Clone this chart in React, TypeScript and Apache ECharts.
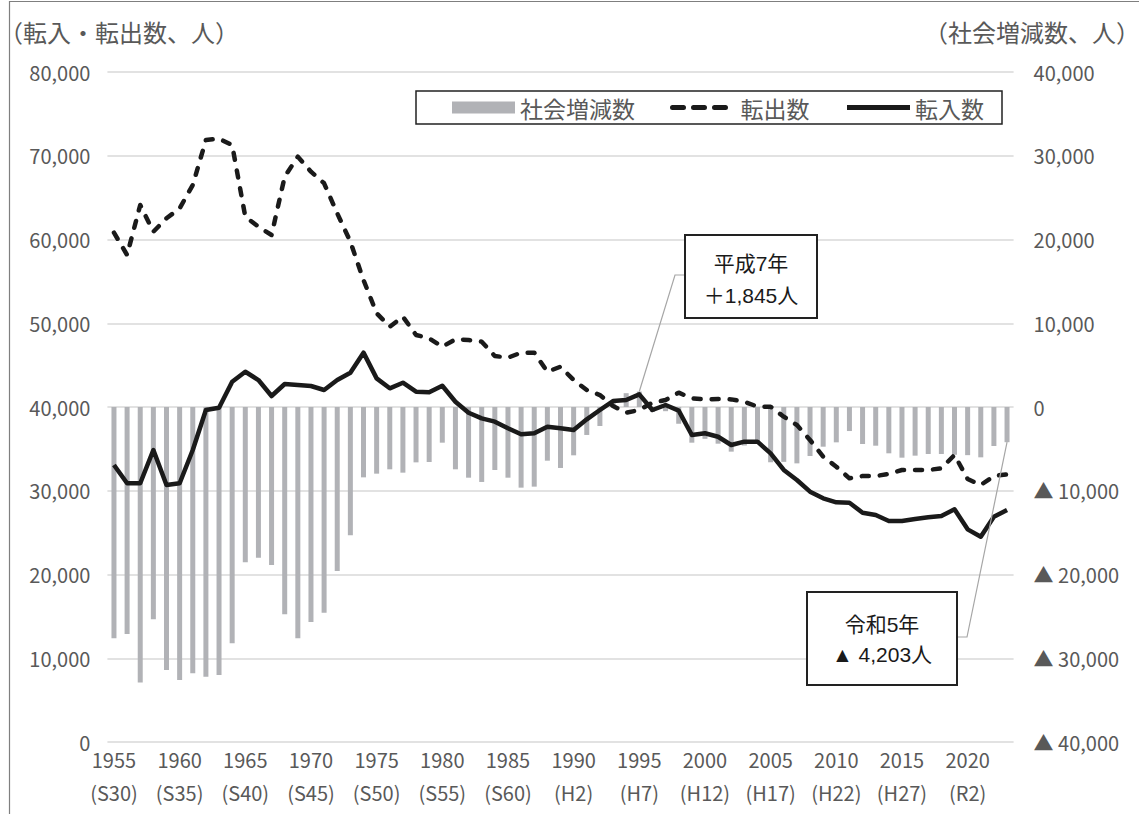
import React, { useEffect, useRef } from "react";
import * as echarts from "echarts";

const years = [
  "1955","1956","1957","1958","1959","1960","1961","1962","1963","1964",
  "1965","1966","1967","1968","1969","1970","1971","1972","1973","1974",
  "1975","1976","1977","1978","1979","1980","1981","1982","1983","1984",
  "1985","1986","1987","1988","1989","1990","1991","1992","1993","1994",
  "1995","1996","1997","1998","1999","2000","2001","2002","2003","2004",
  "2005","2006","2007","2008","2009","2010","2011","2012","2013","2014",
  "2015","2016","2017","2018","2019","2020","2021","2022","2023",
];

const eraLabels = ["S30","S35","S40","S45","S50","S55","S60","H2","H7","H12","H17","H22","H27","R2"];

// 社会増減数 (right axis)
const socialChange = [
  -27620,-27100,-32900,-25350,-31400,-32600,-31800,-32200,-32000,-28220,
  -18550,-17990,-18870,-24760,-27620,-25670,-24560,-19580,-15320,-8400,
  -7960,-7440,-7840,-6610,-6570,-4260,-7440,-8440,-8950,-7520,
  -8440,-9630,-9510,-6410,-7280,-5770,-3340,-2270,500,1650,
  1845,-600,-500,-2000,-4260,-3800,-4380,-5330,-4600,-4300,
  -6600,-6550,-6730,-5850,-4740,-4220,-2870,-4420,-4620,-5530,
  -6050,-5810,-5610,-5610,-5700,-5750,-6010,-4660,-4203,
];

// 転出数 (left axis)
const outflow = [
  60810,58150,64120,60930,62530,63720,66510,71880,72040,71280,
  62720,61530,60540,67500,69890,68100,66710,63130,59740,55160,
  51190,49590,50780,48600,48200,47200,48080,48000,47800,46090,
  45890,46490,46490,44210,44810,43220,42030,41430,40120,39320,
  39640,40520,40830,41710,41030,40910,40950,40910,40630,40040,
  40040,38840,37850,36060,34070,32870,31480,31760,31760,32000,
  32480,32480,32480,32680,34270,31400,30690,31760,31960,
];

// 転入数 (left axis)
const inflow = [
  33070,30890,30890,34860,30690,30890,34860,39640,39900,43020,
  44210,43220,41310,42750,42630,42510,42030,43220,44090,46490,
  43420,42230,42900,41830,41750,42540,40630,39320,38650,38250,
  37460,36740,36860,37650,37460,37250,38530,39640,40710,40830,
  41510,39640,40240,39560,36660,36860,36450,35460,35860,35860,
  34470,32480,31280,29890,29100,28620,28570,27380,27100,26390,
  26390,26630,26830,26980,27780,25390,24510,26900,27700,
];

const NARROW = "'Liberation Sans Narrow', 'Noto Sans CJK JP', sans-serif";
const CJK = "'Noto Sans CJK JP', 'Liberation Sans', sans-serif";
const SANS = "'Liberation Sans', 'Noto Sans CJK JP', sans-serif";
const TEXT = "#595959";

const fmt = (v: number) => v.toLocaleString("en-US");

export default function App() {
  const ref = useRef<HTMLDivElement>(null);

  useEffect(() => {
    document.body.style.margin = "0";
    if (!ref.current) return;
    const chart = echarts.init(ref.current, undefined, { renderer: "svg" });

    const option: any = {
      animation: false,
      backgroundColor: "#ffffff",
      grid: { left: 107.4, right: 125.4, top: 72, bottom: 72, containLabel: false },
      legend: {
        left: 416,
        top: 91,
        orient: "horizontal",
        borderColor: "#222",
        borderWidth: 1.5,
        padding: [5, 18, 5, 36],
        itemGap: 35,
        itemWidth: 63,
        itemHeight: 12,
        textStyle: { fontSize: 23, color: TEXT, fontFamily: CJK },
        data: [
          { name: "社会増減数", icon: "rect" },
          {
            name: "転出数",
            itemStyle: { opacity: 0 },
            lineStyle: { type: [11, 10], width: 5, cap: "round", color: "#1a1a1a" },
          },
          {
            name: "転入数",
            itemStyle: { opacity: 0 },
            lineStyle: { width: 5, color: "#1a1a1a" },
          },
        ],
      },
      xAxis: {
        type: "category",
        data: years,
        boundaryGap: true,
        axisLine: { show: false },
        axisTick: { show: false },
        axisLabel: {
          interval: (i: number) => i % 5 === 0,
          formatter: (v: string, i: number) =>
            i % 5 === 0 ? `${v}\n(${eraLabels[i / 5]})` : "",
          fontSize: 20,
          lineHeight: 33,
          margin: 1,
          color: TEXT,
          fontFamily: NARROW,
        },
      },
      yAxis: [
        {
          type: "value",
          min: 0,
          max: 80000,
          interval: 10000,
          axisLine: { show: false },
          axisTick: { show: false },
          splitLine: { lineStyle: { color: "#d9d9d9", width: 1.5 } },
          axisLabel: {
            formatter: (v: number) => fmt(v),
            fontSize: 20,
            margin: 17,
            color: TEXT,
            fontFamily: NARROW,
          },
        },
        {
          type: "value",
          min: -40000,
          max: 40000,
          interval: 10000,
          axisLine: { show: false },
          axisTick: { show: false },
          splitLine: { show: false },
          axisLabel: {
            formatter: (v: number) => (v < 0 ? "▲ " + fmt(-v) : fmt(v)),
            fontSize: 20,
            margin: 20,
            color: TEXT,
            fontFamily: NARROW,
          },
        },
      ],
      series: [
        {
          name: "社会増減数",
          type: "bar",
          yAxisIndex: 1,
          data: socialChange,
          barWidth: 5,
          itemStyle: { color: "#b1b2b6" },
          z: 1,
        },
        {
          name: "転出数",
          type: "line",
          yAxisIndex: 0,
          data: outflow,
          symbol: "none",
          lineStyle: { color: "#1a1a1a", width: 4.5, type: [7, 11], cap: "round", join: "round" },
          itemStyle: { color: "#1a1a1a" },
          z: 3,
        },
        {
          name: "転入数",
          type: "line",
          yAxisIndex: 0,
          data: inflow,
          symbol: "none",
          lineStyle: { color: "#1a1a1a", width: 4.5, join: "round" },
          itemStyle: { color: "#1a1a1a" },
          z: 4,
        },
      ],
    };

    chart.setOption(option);

    const p1 = chart.convertToPixel({ seriesIndex: 0 }, [years[40], socialChange[40]]) as number[];
    const p2 = chart.convertToPixel({ seriesIndex: 0 }, [years[68], socialChange[68]]) as number[];

    const boxText = (x: number, y: number, t: string) => ({
      type: "text",
      x,
      y,
      z: 102,
      style: {
        text: t,
        fill: "#1a1a1a",
        fontSize: 21,
        fontFamily: SANS,
        textAlign: "center",
        textVerticalAlign: "middle",
      },
    });

    chart.setOption({
      graphic: [
        {
          type: "polyline",
          z: 50,
          shape: { points: [[9.5, 814], [9.5, 1.5], [1139, 1.5]] },
          style: { stroke: "#7f7f7f", lineWidth: 1.2, fill: "none" },
        },
        {
          type: "text",
          x: -1,
          y: 31,
          style: { text: "（転入・転出数、人）", fill: TEXT, fontSize: 24, fontFamily: CJK, textVerticalAlign: "middle" },
        },
        {
          type: "text",
          x: 1140,
          y: 31,
          style: { text: "（社会増減数、人）", fill: TEXT, fontSize: 24, fontFamily: CJK, textAlign: "right", textVerticalAlign: "middle" },
        },
        {
          type: "polyline",
          z: 100,
          shape: { points: [[p1[0], p1[1]], [675, 275], [685, 275]] },
          style: { stroke: "#a6a6a6", lineWidth: 1.2, fill: "none" },
        },
        {
          type: "rect",
          z: 101,
          shape: { x: 685, y: 235, width: 132, height: 83 },
          style: { fill: "#ffffff", stroke: "#222", lineWidth: 2 },
        },
        boxText(751, 263, "平成7年"),
        boxText(751, 295, "＋1,845人"),
        {
          type: "polyline",
          z: 100,
          shape: { points: [[p2[0], p2[1]], [967, 637], [957, 637]] },
          style: { stroke: "#a6a6a6", lineWidth: 1.2, fill: "none" },
        },
        {
          type: "rect",
          z: 101,
          shape: { x: 807, y: 592, width: 150, height: 93 },
          style: { fill: "#ffffff", stroke: "#222", lineWidth: 2 },
        },
        boxText(882, 624, "令和5年"),
        boxText(882, 654, "▲ 4,203人"),
      ],
    });

    return () => chart.dispose();
  }, []);

  return <div ref={ref} style={{ width: 1139, height: 814 }} />;
}
